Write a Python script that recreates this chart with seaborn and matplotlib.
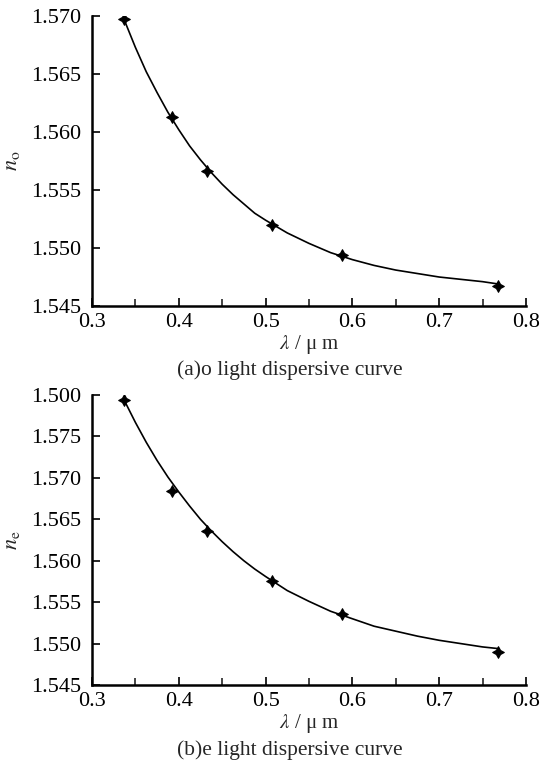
import numpy as np
import pandas as pd
import matplotlib
matplotlib.use("Agg")
import matplotlib.pyplot as plt
import seaborn as sns
from matplotlib.ticker import MultipleLocator

# measured points
wl_pts = [0.337, 0.392, 0.433, 0.507, 0.588, 0.768]
no_pts = [1.5697, 1.5613, 1.5566, 1.5520, 1.5494, 1.5467]
ne_pts = [1.5794, 1.5684, 1.5636, 1.5576, 1.5536, 1.5490]

# fitted curves
wl_fit = [0.337, 0.350, 0.3625, 0.375, 0.3875, 0.400, 0.4125, 0.425, 0.4375, 0.450,
          0.4625, 0.475, 0.4875, 0.500, 0.525, 0.550, 0.575, 0.600, 0.625, 0.650,
          0.675, 0.700, 0.725, 0.750, 0.768]
no_fit = [1.5697, 1.5673, 1.5652, 1.5634, 1.5617, 1.5602, 1.5588, 1.5576, 1.5565, 1.5555,
          1.5546, 1.5538, 1.5530, 1.5524, 1.5513, 1.5504, 1.5496, 1.5490, 1.5485, 1.5481,
          1.5478, 1.5475, 1.5473, 1.5471, 1.5469]
ne_fit = [1.5794, 1.5767, 1.5743, 1.5721, 1.5701, 1.5683, 1.5666, 1.5650, 1.5636, 1.5623,
          1.5611, 1.5600, 1.5590, 1.5581, 1.5564, 1.5551, 1.5539, 1.5530, 1.5521, 1.5515,
          1.5509, 1.5504, 1.5500, 1.5496, 1.5494]

yticks_o = [1.545, 1.550, 1.555, 1.560, 1.565, 1.570]
ylabels_o = ["1.545", "1.550", "1.555", "1.560", "1.565", "1.570"]
yticks_e = [1.545, 1.550, 1.555, 1.560, 1.565, 1.570, 1.575, 1.580]
ylabels_e = ["1.545", "1.550", "1.555", "1.560", "1.565", "1.570", "1.575", "1.500"]
xticks = [0.3, 0.4, 0.5, 0.6, 0.7, 0.8]

sns.set_style("ticks")
plt.rcParams['font.family'] = ['Liberation Serif', 'DejaVu Serif']
plt.rcParams['mathtext.fontset'] = 'stix'

fig = plt.figure(figsize=(5.42, 7.62), dpi=100)
ax1 = fig.add_axes([0.1697, 0.5984, 0.8007, 0.3806])
ax2 = fig.add_axes([0.1697, 0.1010, 0.8007, 0.3806])

star = (4, 1, 0)


def draw(ax, n_fit, n_pts, yticks, ylabels, ylab, caption, cap_y):
    sns.lineplot(x=wl_fit, y=n_fit, ax=ax, color="black", linewidth=1.2)
    sns.scatterplot(x=wl_pts, y=n_pts, ax=ax, color="black", marker=star, s=70,
                    edgecolor="black", linewidth=0.8, zorder=3)
    ax.set_xlim(0.3, 0.8)
    ax.set_ylim(yticks[0], yticks[-1])
    ax.set_xticks(xticks)
    ax.set_xticklabels([str(t) for t in xticks])
    ax.xaxis.set_minor_locator(MultipleLocator(0.05))
    ax.set_yticks(yticks)
    ax.set_yticklabels(ylabels)
    sns.despine(ax=ax)
    for s in ["left", "bottom"]:
        ax.spines[s].set_linewidth(1.8)
        ax.spines[s].set_color("black")
    ax.tick_params(axis="both", which="major", direction="in", length=6, width=1.2,
                   labelsize=16, colors="black")
    ax.tick_params(axis="x", which="major", pad=5)
    ax.tick_params(axis="y", which="major", pad=8)
    ax.tick_params(axis="x", which="minor", direction="in", length=5, width=1.2)
    ax.set_ylabel(ylab, fontsize=16)
    ax.yaxis.set_label_coords(-0.162, 0.5)
    ax.set_xlabel(r"$\lambda$ / μ m", fontsize=15, labelpad=1)
    ax.text(0.456, cap_y, caption, transform=ax.transAxes, ha="center", va="center",
            fontsize=15.5)


draw(ax1, no_fit, no_pts, yticks_o, ylabels_o, r"$n_{\rm o}$",
     "(a)o light dispersive curve", -0.221)
draw(ax2, ne_fit, ne_pts, yticks_e, ylabels_e, r"$n_{\rm e}$",
     "(b)e light dispersive curve", -0.225)

fig.savefig("out.png", dpi=100)
